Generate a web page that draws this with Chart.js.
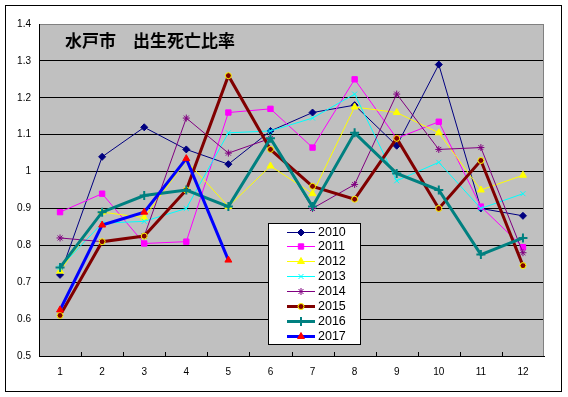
<!DOCTYPE html>
<html>
<head>
<meta charset="utf-8">
<script src="https://cdn.jsdelivr.net/npm/chart.js"></script>
<style>
body { margin: 0; background: #fff; }
</style>
</head>
<body>
<canvas id="myChart" width="568" height="397"></canvas>
<script>
var months = ['1','2','3','4','5','6','7','8','9','10','11','12'];
var years = ['2010','2011','2012','2013','2014','2015','2016','2017'];

var y2010 = [0.72, 1.04, 1.12, 1.06, 1.02, 1.11, 1.16, 1.18, 1.07, 1.29, 0.90, 0.88];
var y2011 = [0.89, 0.94, 0.805, 0.81, 1.16, 1.17, 1.065, 1.25, 1.09, 1.135, 0.905, 0.795];
var y2012 = [0.73, 0.89, 0.875, 1.03, 0.905, 1.015, 0.94, 1.175, 1.16, 1.105, 0.95, 0.99];
var y2013 = [0.74, 0.86, 0.865, 0.90, 1.105, 1.11, 1.145, 1.21, 0.975, 1.025, 0.90, 0.94];
var y2014 = [0.82, 0.81, 0.825, 1.145, 1.05, 1.09, 0.90, 0.965, 1.21, 1.06, 1.065, 0.78];
var y2015 = [0.61, 0.81, 0.825, 0.95, 1.26, 1.06, 0.96, 0.925, 1.09, 0.90, 1.03, 0.745];
var y2016 = [0.74, 0.89, 0.935, 0.95, 0.905, 1.09, 0.905, 1.105, 0.995, 0.95, 0.775, 0.82];
var y2017 = [0.625, 0.855, 0.89, 1.035, 0.76];

var yMin = 0.5, yMax = 1.4, yStep = 0.1;
var title = '水戸市　出生死亡比率';

function series(i, data, color, width, style, radius, fill, border, bw) {
	return {
		label: years[i],
		data: data,
		order: years.length - i,
		borderColor: color,
		borderWidth: width,
		tension: 0,
		fill: false,
		pointStyle: style,
		pointRadius: radius,
		pointBackgroundColor: fill,
		pointBorderColor: border,
		pointBorderWidth: bw
	};
}

var datasets = [
	series(0, y2010, '#000080', 1, 'rectRot', 3.5, '#000080', '#000080', 1),
	series(1, y2011, '#FF00FF', 1, 'rect', 3.8, '#FF00FF', '#FF00FF', 1),
	series(2, y2012, '#FFFF00', 1, 'triangle', 4, '#FFFF00', '#FFFF00', 1),
	series(3, y2013, '#00FFFF', 1, 'crossRot', 3.5, '#00FFFF', '#00FFFF', 1),
	series(4, y2014, '#800080', 1, 'star', 3.5, '#800080', '#800080', 1),
	series(5, y2015, '#800000', 3, 'circle', 3, '#800000', '#FFFF00', 1),
	series(6, y2016, '#008080', 3, 'cross', 4.5, '#008080', '#008080', 2),
	series(7, y2017, '#0000FF', 3, 'triangle', 4, '#FF0000', '#FF0000', 1)
];

function markerAt(ctx, ds, x, y) {
	ctx.fillStyle = ds.pointBackgroundColor;
	ctx.strokeStyle = ds.pointBorderColor;
	ctx.lineWidth = ds.pointBorderWidth;
	Chart.helpers.drawPoint(ctx, {
		pointStyle: ds.pointStyle,
		radius: ds.pointRadius,
		rotation: 0,
		borderWidth: ds.pointBorderWidth
	}, x, y);
}

var excelLook = {
	id: 'excelLook',
	beforeDraw: function(chart) {
		var ctx = chart.ctx, a = chart.chartArea;
		ctx.save();
		ctx.fillStyle = '#fff';
		ctx.fillRect(0, 0, chart.width, chart.height);
		ctx.fillStyle = '#C0C0C0';
		ctx.fillRect(a.left, a.top, a.right - a.left, a.bottom - a.top);
		ctx.restore();
	},
	beforeDatasetsDraw: function(chart) {
		var ctx = chart.ctx, a = chart.chartArea, xs = chart.scales.x;
		ctx.save();
		ctx.lineWidth = 1;
		ctx.strokeStyle = '#808080';
		ctx.beginPath();
		ctx.moveTo(Math.round(a.right) - 0.5, a.top);
		ctx.lineTo(Math.round(a.right) - 0.5, a.bottom);
		ctx.stroke();
		// small inward ticks between months
		ctx.strokeStyle = '#000';
		ctx.beginPath();
		for (var i = 0; i < months.length - 1; i++) {
			var x = Math.round(xs.getPixelForValue(i + 0.5)) + 0.5;
			ctx.moveTo(x, a.bottom);
			ctx.lineTo(x, a.bottom - 4);
		}
		ctx.stroke();
		ctx.restore();
	},
	afterDraw: function(chart) {
		var ctx = chart.ctx, a = chart.chartArea;
		ctx.save();

		// title inside the plot
		ctx.fillStyle = '#000';
		ctx.font = 'bold 17px "Noto Sans CJK JP"';
		ctx.textBaseline = 'middle';
		ctx.textAlign = 'left';
		ctx.fillText(title, a.left + 26, a.top + 17);

		// legend box
		var lx = 268, ly = 223, lw = 92, lh = 121;
		ctx.fillStyle = '#fff';
		ctx.fillRect(lx, ly, lw, lh);
		ctx.strokeStyle = '#000';
		ctx.lineWidth = 1;
		ctx.strokeRect(lx + 0.5, ly + 0.5, lw, lh);
		ctx.font = '12.5px "Liberation Sans"';
		for (var i = 0; i < datasets.length; i++) {
			var ds = datasets[i];
			var y = Math.round(ly + 8.5 + i * 14.86);
			ctx.strokeStyle = ds.borderColor;
			ctx.lineWidth = ds.borderWidth;
			ctx.beginPath();
			ctx.moveTo(lx + 19, y + 0.5);
			ctx.lineTo(lx + 47, y + 0.5);
			ctx.stroke();
			markerAt(ctx, ds, lx + 33, y + 0.5);
			ctx.fillStyle = '#000';
			ctx.fillText(ds.label, lx + 50, y + 1);
		}

		// outer frame
		ctx.strokeStyle = '#000';
		ctx.lineWidth = 1;
		ctx.strokeRect(5.5, 5.5, 556, 386);
		ctx.restore();
	}
};

var ctx = document.getElementById('myChart');

var myLineChart = new Chart(ctx, {
	type: 'line',
	data: {
		labels: months,
		datasets: datasets
	},
	plugins: [excelLook],
	options: {
		responsive: false,
		animation: false,
		layout: { padding: { left: 0, top: 24, right: 24, bottom: 0 } },
		plugins: {
			legend: { display: false },
			tooltip: { enabled: false }
		},
		scales: {
			x: {
				offset: true,
				grid: { display: false, drawTicks: false },
				border: { display: true, color: '#000', width: 1 },
				ticks: {
					color: '#000',
					padding: 10,
					font: { family: 'Liberation Sans', size: 10 },
					maxRotation: 0
				},
				afterFit: function(scale) { scale.height = 41; }
			},
			y: {
				min: yMin,
				max: yMax,
				grid: {
					drawTicks: false,
					color: function(c) {
						return Math.abs(c.tick.value - yMax) < 1e-6 ? '#808080' : '#000';
					}
				},
				border: { display: true, color: '#000', width: 1 },
				ticks: {
					stepSize: yStep,
					autoSkip: false,
					color: '#000',
					padding: 8,
					font: { family: 'Liberation Sans', size: 10 },
					callback: function(v) { return String(Math.round(v * 10) / 10); }
				},
				afterFit: function(scale) { scale.width = 39; }
			}
		}
	}
});
</script>
</body>
</html>
